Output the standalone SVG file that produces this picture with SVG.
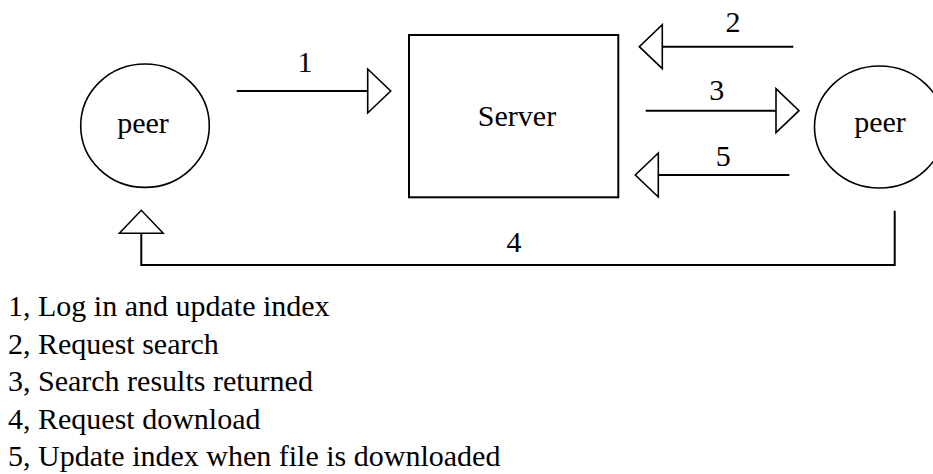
<svg xmlns="http://www.w3.org/2000/svg" width="933" height="474" viewBox="0 0 933 474">
  <style>
    text { font-family: "Liberation Serif", "Times New Roman", Times, Tinos, "Nimbus Roman", "Nimbus Roman No9 L", "Noto Serif", "DejaVu Serif", FreeSerif, serif; fill: #000; }
    .lbl { font-size: 30px; text-anchor: middle; }
    .leg { font-size: 30px; }
    .node { fill: #fff; stroke: #000; }
    .conn { fill: none; stroke: #000; stroke-width: 2; }
  </style>
  <defs>
    <marker id="tri" markerUnits="userSpaceOnUse" viewBox="-2 -24 27 48" refX="0" refY="0" markerWidth="27" markerHeight="48" orient="auto">
      <path d="M0,-22 L23,0 L0,22 Z" fill="#fff" stroke="#000" stroke-width="1.6"/>
    </marker>
  </defs>
  <rect width="933" height="474" fill="#fff"/>

  <g id="peer-left">
    <ellipse class="node" cx="145" cy="125.7" rx="64.3" ry="61.7" stroke-width="1.6"/>
    <text class="lbl" x="143" y="133">peer</text>
  </g>
  <g id="server">
    <rect class="node" x="409" y="35" width="209.3" height="162.3" stroke-width="2"/>
    <text class="lbl" x="517" y="126">Server</text>
  </g>
  <g id="peer-right">
    <ellipse class="node" cx="879.5" cy="127" rx="65" ry="61" stroke-width="1.6"/>
    <text class="lbl" x="880" y="131.5">peer</text>
  </g>

  <g id="connectors">
    <line class="conn" x1="236.7" y1="91" x2="367.7" y2="91" marker-end="url(#tri)"/>
    <line class="conn" x1="793.3" y1="46.7" x2="662.3" y2="46.7" marker-end="url(#tri)"/>
    <line class="conn" x1="645.7" y1="110.7" x2="776" y2="110.7" marker-end="url(#tri)"/>
    <line class="conn" x1="789.3" y1="175" x2="658.3" y2="175" marker-end="url(#tri)"/>
    <path class="conn" d="M894.7,210.7 V265 H141.3 V233.3" marker-end="url(#tri)"/>
    <text class="lbl" x="305" y="71.7">1</text>
    <text class="lbl" x="733" y="31.7">2</text>
    <text class="lbl" x="716.7" y="100">3</text>
    <text class="lbl" x="514" y="252">4</text>
    <text class="lbl" x="723.3" y="165.7">5</text>
  </g>

  <g id="legend">
    <text class="leg" x="8" y="316">1, Log in and update index</text>
    <text class="leg" x="8" y="353.5">2, Request search</text>
    <text class="leg" x="8" y="391">3, Search results returned</text>
    <text class="leg" x="8" y="428.5">4, Request download</text>
    <text class="leg" x="8" y="466">5, Update index when file is downloaded</text>
  </g>
</svg>
